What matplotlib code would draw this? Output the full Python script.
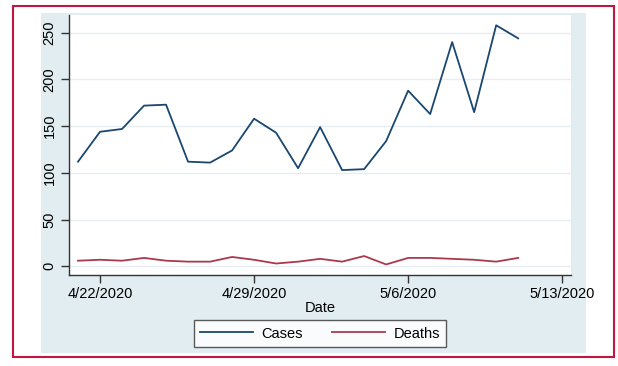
import matplotlib
matplotlib.use("Agg")
import matplotlib.pyplot as plt
import matplotlib.dates as mdates
from matplotlib.patches import Rectangle
import pandas as pd

dates = ["2020-04-21", "2020-04-22", "2020-04-23", "2020-04-24", "2020-04-25",
         "2020-04-26", "2020-04-27", "2020-04-28", "2020-04-29", "2020-04-30",
         "2020-05-01", "2020-05-02", "2020-05-03", "2020-05-04", "2020-05-05",
         "2020-05-06", "2020-05-07", "2020-05-08", "2020-05-09", "2020-05-10",
         "2020-05-11"]
cases = [112, 144, 147, 172, 173, 112, 111, 124, 158, 143, 105, 149, 103, 104,
         134, 188, 163, 240, 165, 258, 244]
deaths = [6, 7, 6, 9, 6, 5, 5, 10, 7, 3, 5, 8, 5, 11, 2, 9, 9, 8, 7, 5, 9]
xtick_dates = ["2020-04-22", "2020-04-29", "2020-05-06", "2020-05-13"]
xtick_labels = ["4/22/2020", "4/29/2020", "5/6/2020", "5/13/2020"]
yticks = [0, 50, 100, 150, 200, 250]

plt.rcParams["font.family"] = ["Liberation Sans", "DejaVu Sans"]

W, H = 618, 366
fig = plt.figure(figsize=(W / 100, H / 100), dpi=100)
fig.patch.set_facecolor("white")

# background axes holding the graph region and the frame
bg = fig.add_axes([0, 0, 1, 1], zorder=-5)
bg.set_xlim(0, W)
bg.set_ylim(H, 0)
bg.axis("off")
bg.add_patch(Rectangle((41, 13), 586 - 41, 353 - 13, facecolor="#e2edf2",
                       edgecolor="none"))
bg.add_patch(Rectangle((13, 6), 614 - 13, 357 - 6, facecolor="none",
                       edgecolor="#c0163f", linewidth=1.5))

ax = fig.add_axes([69 / W, 1 - 275 / H, (571 - 69) / W, (275 - 15) / H], zorder=2)
ax.set_facecolor("white")

x = mdates.date2num(pd.to_datetime(dates))
ax.plot(x, cases, color="#1a476f", linewidth=1.3, label="Cases")
ax.plot(x, deaths, color="#aa3a4b", linewidth=1.3, label="Deaths")

x0 = mdates.date2num(pd.Timestamp("2020-04-22"))
ax.set_xlim(x0 - 1.41, x0 + 21.4)
ax.set_ylim(-9.3, 269)

ax.set_yticks(yticks)
ax.set_yticklabels([str(v) for v in yticks], rotation=90, va="center", fontsize=10.5)
ax.set_xticks(mdates.date2num(pd.to_datetime(xtick_dates)))
ax.set_xticklabels(xtick_labels, fontsize=10.5)
ax.grid(axis="y", color="#e6eef2", linewidth=1.0)
ax.set_axisbelow(True)

for s in ["top", "right"]:
    ax.spines[s].set_visible(False)
for s in ["left", "bottom"]:
    ax.spines[s].set_color("#333333")
    ax.spines[s].set_linewidth(1.0)
ax.tick_params(axis="both", color="#333333", length=6, width=1.0, pad=3)

ax.set_xlabel("Date", fontsize=10.5, labelpad=0)

leg = ax.legend(loc="upper center", bbox_to_anchor=(0.5, -0.173), ncol=2,
                frameon=True, fancybox=False, fontsize=10.5, handlelength=3.6,
                handletextpad=0.6, columnspacing=2.0, borderpad=0.45,
                borderaxespad=0)
leg.get_frame().set_edgecolor("#333333")
leg.get_frame().set_linewidth(1.0)

fig.savefig("out.png", dpi=100)
